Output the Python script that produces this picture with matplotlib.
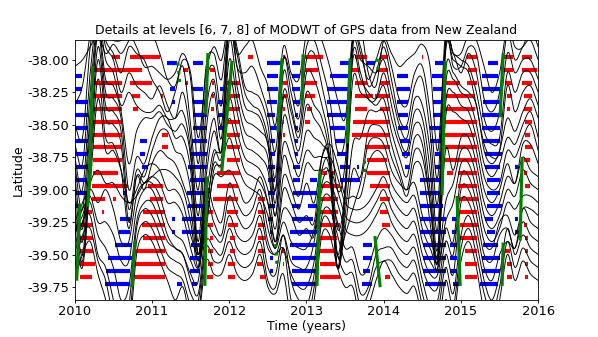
import numpy as np
import matplotlib
matplotlib.use("Agg")
import matplotlib.pyplot as plt

plt.rcParams['axes.unicode_minus'] = False

# ---------------- data ----------------
row_lat = [-38.0, -38.1, -38.2, -38.3, -38.4, -38.5, -38.6, -38.7, -38.8,
           -38.9, -39.0, -39.1, -39.2, -39.3, -39.4, -39.5, -39.6, -39.7]

# time knots of the detail curves (years)
knot_t = [2010.0 + 0.1 * k for k in range(61)]

# detail curves (offset from station latitude, plot units), one row per station
curve_dev = [
 [-0.05, 0.0, 0.1, 0.2, 0.05, 0.12, 0.05, 0.15, 0.25, 0.2,
  0.2, 0.05, -0.15, -0.2, 0.0, -0.1, -0.6, -0.1, 0.1, 0.0,
  0.3, 0.05, 0.1, 0.15, -0.05, -0.2, -0.5, 0.1, -0.1, -0.15,
  0.2, 0.3, 0.15, -0.05, -0.3, -0.45, 0.15, 0.25, -0.1, -0.2,
  0.15, 0.05, -0.05, 0.0, 0.05, 0.12, -0.05, -0.7, 0.2, 0.05,
  0.05, 0.2, 0.15, -0.05, -0.25, -0.1, 0.25, 0.1, 0.1, 0.25, 0.1],
 [-0.25, -0.1, 0.3, 0.5, 0.3, 0.25, 0.25, 0.3, 0.2, 0.05,
  0.05, 0.0, -0.05, 0.0, 0.15, -0.05, -0.7, 0.05, 0.15, -0.05,
  0.4, 0.05, 0.0, 0.05, -0.1, -0.3, -0.6, 0.1, -0.05, -0.25,
  0.2, 0.25, 0.05, -0.2, -0.6, -0.5, 0.3, 0.15, -0.05, 0.1,
  0.25, 0.05, -0.2, -0.25, 0.0, 0.05, -0.3, -0.8, 0.25, 0.05,
  0.05, 0.2, 0.15, -0.2, -0.3, -0.15, 0.3, 0.1, 0.2, 0.25, 0.1],
 [-0.3, -0.4, 0.3, 0.6, 0.35, 0.25, 0.1, 0.3, 0.25, 0.2,
  0.05, -0.05, -0.2, -0.05, 0.15, -0.3, -0.8, 0.0, 0.15, -0.15,
  0.5, 0.3, 0.0, -0.05, -0.1, -0.3, -0.7, 0.2, -0.05, -0.25,
  0.2, 0.25, 0.0, -0.3, -0.8, -0.6, 0.35, 0.3, 0.0, 0.1,
  0.3, 0.05, -0.25, -0.3, 0.0, 0.05, -0.35, -0.9, 0.3, 0.25,
  0.1, 0.25, 0.1, -0.25, -0.35, -0.2, 0.25, 0.1, 0.2, 0.2, 0.05],
 [-0.35, -0.5, 0.2, 0.65, 0.4, 0.3, 0.05, 0.2, 0.1, 0.05,
  0.0, 0.1, -0.05, -0.15, 0.05, -0.3, -0.9, -0.1, 0.15, -0.2,
  0.6, 0.35, 0.05, -0.05, -0.1, -0.3, -0.7, 0.2, -0.05, -0.25,
  0.2, 0.15, -0.05, -0.35, -1.0, -0.7, 0.4, 0.3, 0.25, 0.2,
  0.3, 0.05, -0.2, -0.3, 0.0, -0.05, -0.4, -1.0, 0.4, 0.35,
  0.3, 0.25, 0.05, -0.25, -0.35, -0.3, 0.2, 0.05, 0.2, 0.2, 0.05],
 [-0.35, -0.6, 0.15, 0.7, 0.4, 0.3, 0.05, 0.15, 0.05, 0.0,
  0.0, 0.05, -0.05, -0.05, 0.0, -0.3, -1.0, -0.15, 0.15, -0.2,
  0.65, 0.35, 0.05, 0.0, -0.05, -0.25, -0.6, 0.15, 0.0, -0.2,
  0.15, 0.05, -0.05, -0.35, -1.1, -0.6, 0.45, 0.3, 0.1, 0.1,
  0.3, 0.05, -0.2, -0.3, 0.0, -0.05, -0.45, -1.05, 0.45, 0.4,
  0.35, 0.3, 0.05, -0.25, -0.35, -0.3, 0.2, 0.0, 0.15, 0.2, 0.05],
 [-0.3, -0.65, 0.1, 0.75, 0.35, 0.3, 0.1, -0.3, -0.05, 0.05,
  0.05, 0.1, 0.0, -0.05, 0.0, -0.25, -1.0, -0.3, 0.05, -0.2,
  0.65, 0.3, 0.05, 0.0, -0.05, -0.15, -0.6, 0.2, 0.0, -0.2,
  0.15, 0.05, -0.05, -0.3, -1.1, -0.5, 0.5, 0.35, 0.25, 0.2,
  0.3, 0.05, -0.15, -0.25, 0.0, -0.05, -0.5, -1.0, 0.4, 0.4,
  0.3, 0.25, 0.15, -0.2, -0.3, -0.2, 0.05, -0.05, 0.1, 0.2, 0.05],
 [-0.3, -0.7, 0.1, 0.8, 0.35, 0.3, 0.15, -0.4, -0.15, -0.2,
  0.0, 0.15, 0.15, 0.0, 0.0, -0.25, -0.9, -0.3, 0.05, -0.1,
  0.6, 0.3, 0.05, 0.0, -0.05, -0.15, -0.6, 0.15, 0.0, -0.2,
  0.05, 0.0, -0.05, -0.2, -1.0, -0.5, 0.45, 0.35, 0.3, 0.25,
  0.3, 0.05, -0.15, -0.3, 0.0, -0.05, -0.5, -0.95, 0.4, 0.45,
  0.35, 0.3, 0.1, -0.2, -0.3, -0.2, 0.0, -0.05, 0.1, 0.2, 0.0],
 [-0.3, -0.7, 0.05, 0.8, 0.35, 0.3, 0.15, -0.45, -0.15, -0.2,
  0.0, 0.15, 0.15, 0.0, -0.05, -0.3, -0.8, -0.35, 0.0, -0.05,
  0.55, 0.3, 0.05, 0.0, -0.05, -0.15, -0.5, 0.05, -0.05, -0.2,
  0.0, -0.05, -0.05, -0.15, -0.9, -0.5, 0.05, 0.1, 0.3, 0.3,
  0.3, 0.05, -0.15, -0.3, 0.0, -0.05, -0.4, -0.85, 0.35, 0.45,
  0.35, 0.3, 0.1, -0.2, -0.3, -0.25, 0.0, -0.05, 0.1, 0.2, 0.0],
 [-0.3, -0.7, 0.05, 0.8, 0.35, 0.3, 0.15, -0.45, -0.1, -0.2,
  0.0, 0.1, 0.05, 0.0, -0.15, -0.35, -0.75, -0.35, 0.0, 0.0,
  0.5, 0.25, 0.05, 0.0, -0.05, -0.2, -0.5, 0.05, -0.1, -0.25,
  0.0, -0.05, -0.05, -0.1, -0.8, -0.5, -0.05, -0.1, 0.25, 0.3,
  0.25, 0.05, -0.1, -0.25, 0.0, -0.05, -0.45, -0.8, 0.35, 0.4,
  0.35, 0.3, 0.1, -0.2, -0.3, -0.2, 0.0, -0.15, 0.15, 0.15, 0.0],
 [-0.3, -0.65, 0.05, 0.75, 0.3, 0.25, 0.05, -0.4, 0.0, -0.05,
  0.0, 0.05, 0.05, 0.0, -0.1, -0.35, -0.7, -0.3, 0.15, 0.2,
  0.45, 0.25, 0.05, 0.0, -0.05, -0.2, -0.5, 0.0, -0.1, -0.25,
  -0.05, -0.2, 0.15, 0.15, -0.6, -0.45, -0.25, -0.05, 0.25, 0.3,
  0.25, 0.05, -0.05, -0.1, -0.05, -0.3, -0.45, -0.6, 0.2, 0.05,
  0.3, 0.3, 0.1, -0.2, -0.3, -0.2, 0.0, -0.05, 0.15, 0.05, 0.0],
 [-0.3, -0.6, 0.05, 0.7, 0.3, 0.3, 0.15, -0.1, 0.0, 0.15,
  0.2, 0.15, 0.0, 0.0, -0.1, -0.35, -0.5, -0.3, 0.15, 0.2,
  0.4, 0.2, 0.05, 0.0, -0.05, -0.2, -0.45, 0.0, -0.1, -0.25,
  -0.2, -0.25, 0.25, 0.35, 0.2, -0.05, -0.05, -0.05, 0.2, 0.3,
  0.25, 0.05, -0.05, -0.1, -0.05, -0.3, -0.45, -0.55, -0.1, 0.05,
  0.3, 0.3, 0.1, -0.2, -0.3, -0.2, 0.0, -0.05, 0.15, 0.05, 0.0],
 [-0.2, -0.15, 0.15, 0.25, 0.15, 0.15, 0.05, 0.0, 0.05, 0.15,
  0.2, 0.15, 0.0, 0.0, -0.1, -0.35, -0.5, -0.15, 0.2, 0.2,
  0.25, 0.15, 0.0, 0.05, 0.2, 0.0, -0.3, -0.05, -0.1, -0.25,
  -0.2, -0.25, 0.25, 0.35, 0.2, 0.0, -0.05, -0.05, 0.0, 0.1,
  0.2, 0.05, -0.05, -0.1, -0.05, -0.3, -0.45, -0.5, -0.15, 0.0,
  0.3, 0.3, 0.1, -0.2, -0.3, -0.2, 0.0, -0.05, 0.05, 0.05, 0.0],
 [-0.1, 0.0, 0.2, 0.1, 0.2, 0.05, -0.2, -0.2, 0.15, 0.25,
  0.25, 0.15, -0.05, -0.15, -0.2, -0.35, -0.4, 0.2, 0.05, -0.05,
  0.25, 0.1, 0.0, 0.05, 0.2, -0.1, -0.25, -0.05, -0.2, -0.25,
  -0.25, -0.1, 0.25, 0.35, 0.2, 0.0, -0.05, -0.05, 0.0, 0.1,
  0.2, 0.05, -0.05, -0.1, -0.05, -0.3, -0.45, -0.45, -0.1, -0.2,
  0.3, 0.3, 0.1, -0.2, -0.25, -0.05, 0.0, -0.15, 0.05, 0.05, 0.0],
 [-0.05, 0.2, 0.25, 0.05, 0.05, -0.05, -0.25, -0.25, 0.15, 0.3,
  0.3, 0.15, -0.05, -0.15, -0.2, -0.35, -0.4, 0.2, 0.05, -0.05,
  0.25, 0.1, 0.0, 0.05, 0.2, -0.1, -0.2, -0.05, -0.25, -0.3,
  -0.3, -0.1, 0.3, 0.35, 0.2, 0.0, -0.05, -0.05, 0.0, 0.1,
  0.2, 0.05, -0.05, -0.1, -0.05, -0.3, -0.45, -0.45, -0.1, -0.2,
  0.3, 0.3, 0.1, -0.2, -0.25, -0.05, 0.0, -0.15, 0.15, 0.05, 0.0],
 [0.05, 0.25, 0.3, 0.05, -0.05, -0.2, -0.45, -0.35, 0.15, 0.3,
  0.3, 0.15, 0.0, -0.05, -0.1, -0.3, -0.4, 0.1, 0.05, 0.0,
  0.2, 0.05, 0.0, 0.05, 0.2, -0.05, -0.1, -0.05, -0.25, -0.35,
  -0.35, -0.15, 0.3, 0.35, 0.15, -0.05, -0.05, -0.25, -0.2, 0.0,
  0.1, 0.05, -0.05, -0.1, -0.05, -0.3, -0.5, -0.45, -0.1, -0.25,
  0.3, 0.3, 0.1, -0.2, -0.3, -0.1, 0.0, -0.05, 0.15, 0.05, 0.0],
 [0.0, 0.25, 0.3, 0.0, -0.1, -0.35, -0.6, -0.4, 0.2, 0.35,
  0.3, 0.15, 0.0, -0.05, -0.1, -0.3, -0.35, 0.1, 0.05, 0.0,
  0.2, 0.05, 0.0, 0.05, 0.2, -0.1, -0.15, 0.15, -0.2, -0.35,
  -0.4, -0.15, 0.3, 0.35, 0.15, -0.05, -0.05, -0.3, -0.25, 0.0,
  0.05, 0.05, -0.05, -0.1, -0.05, -0.3, -0.5, -0.45, -0.1, -0.3,
  0.15, 0.3, 0.1, -0.2, -0.35, -0.15, 0.2, 0.0, 0.15, 0.05, 0.0],
 [0.0, 0.25, 0.3, 0.05, -0.1, -0.4, -0.65, -0.45, 0.2, 0.35,
  0.3, 0.15, 0.0, -0.05, -0.1, -0.3, -0.35, 0.15, 0.05, 0.05,
  0.2, 0.05, 0.0, 0.05, 0.2, -0.1, -0.15, 0.15, -0.25, -0.35,
  -0.4, -0.15, 0.35, 0.35, 0.1, -0.05, -0.05, -0.3, -0.2, 0.0,
  0.05, 0.05, -0.05, -0.1, -0.05, -0.3, -0.55, -0.5, -0.1, -0.3,
  0.15, 0.3, 0.1, -0.2, -0.35, -0.15, 0.2, 0.0, 0.15, 0.05, 0.0],
 [0.0, 0.2, 0.3, 0.05, -0.15, -0.45, -0.7, -0.45, 0.2, 0.35,
  0.3, 0.15, 0.0, -0.15, -0.05, -0.3, -0.3, 0.15, 0.05, 0.05,
  0.2, 0.05, 0.0, 0.05, 0.2, -0.05, -0.1, 0.05, -0.3, -0.35,
  -0.4, -0.15, 0.35, 0.35, 0.1, -0.05, -0.05, -0.3, -0.2, 0.0,
  0.15, 0.05, -0.05, -0.1, -0.05, -0.3, -0.55, -0.5, -0.15, -0.3,
  0.15, 0.3, 0.1, -0.25, -0.35, -0.15, 0.2, 0.0, 0.15, 0.05, 0.0],
]

# time spans where the detail is positive (red) / negative (blue), per station
red_spans = [
 [(2010.48, 2010.58), (2010.71, 2011.10), (2012.24, 2012.31), (2012.70, 2012.72), (2012.98, 2013.21),
  (2013.63, 2013.78), (2013.95, 2014.06), (2014.50, 2014.51), (2015.08, 2015.21), (2015.53, 2015.68), (2015.79, 2015.92)],
 [(2010.23, 2010.87), (2011.40, 2011.46), (2011.75, 2011.81), (2012.98, 2013.15), (2013.59, 2013.69),
  (2013.91, 2014.06), (2015.09, 2015.21), (2015.55, 2015.68), (2015.79, 2015.99)],
 [(2010.23, 2010.61), (2010.71, 2011.00), (2011.43, 2011.46), (2011.78, 2011.80), (2011.97, 2012.14),
  (2012.69, 2012.75), (2012.98, 2013.14), (2013.63, 2013.78), (2013.95, 2014.08), (2014.79, 2014.99),
  (2015.08, 2015.21), (2015.57, 2015.66), (2015.79, 2015.92)],
 [(2010.23, 2010.61), (2010.74, 2010.84), (2011.12, 2011.14), (2011.78, 2011.80), (2011.97, 2012.14),
  (2012.69, 2012.75), (2012.98, 2013.11), (2013.63, 2013.86), (2013.89, 2014.08), (2014.79, 2015.18),
  (2015.60, 2015.66), (2015.81, 2015.92)],
 [(2010.23, 2010.61), (2010.75, 2010.82), (2011.76, 2011.80), (2011.97, 2012.14), (2012.69, 2012.72),
  (2013.01, 2013.07), (2013.63, 2013.78), (2013.95, 2014.08), (2014.79, 2015.18), (2015.60, 2015.64), (2015.81, 2015.92)],
 [(2010.23, 2010.61), (2011.97, 2012.14), (2012.69, 2012.71), (2012.98, 2013.05), (2013.60, 2014.08),
  (2014.79, 2015.21), (2015.83, 2015.92)],
 [(2010.23, 2010.61), (2011.13, 2011.21), (2011.97, 2012.14), (2012.70, 2012.72), (2013.59, 2014.08),
  (2014.79, 2015.18), (2015.83, 2015.90)],
 [(2010.23, 2010.61), (2011.13, 2011.21), (2011.97, 2012.14), (2013.76, 2014.08), (2014.79, 2015.21), (2015.83, 2015.92)],
 [(2010.23, 2010.61), (2011.97, 2012.14), (2013.78, 2014.04), (2014.79, 2015.21), (2015.81, 2015.90)],
 [(2010.23, 2010.56), (2011.84, 2012.14), (2013.18, 2013.27), (2013.33, 2013.37), (2013.78, 2014.08),
  (2014.82, 2014.90), (2014.96, 2015.21), (2015.81, 2015.86)],
 [(2010.22, 2010.69), (2010.95, 2011.14), (2011.84, 2012.11), (2013.18, 2013.43), (2013.82, 2014.08),
  (2014.96, 2015.21), (2015.83, 2015.90)],
 [(2010.22, 2010.39), (2010.49, 2010.54), (2010.97, 2011.14), (2011.79, 2012.11), (2012.37, 2012.46),
  (2013.18, 2013.41), (2013.95, 2014.08), (2014.99, 2015.22)],
 [(2010.16, 2010.22), (2010.35, 2010.38), (2010.88, 2011.17), (2011.71, 2011.79), (2011.97, 2012.11),
  (2012.37, 2012.46), (2013.18, 2013.41), (2013.95, 2014.06), (2014.99, 2015.21)],
 [(2010.07, 2010.23), (2010.87, 2011.17), (2011.72, 2011.79), (2011.98, 2012.11), (2012.37, 2012.46),
  (2013.18, 2013.43), (2013.98, 2014.08), (2014.99, 2015.22), (2015.81, 2015.86)],
 [(2010.04, 2010.23), (2010.88, 2011.17), (2011.75, 2011.79), (2012.01, 2012.07), (2012.37, 2012.46),
  (2013.18, 2013.40), (2014.99, 2015.21), (2015.83, 2015.87)],
 [(2010.07, 2010.23), (2010.78, 2011.17), (2011.72, 2011.79), (2012.01, 2012.07), (2012.37, 2012.46),
  (2012.68, 2012.72), (2013.18, 2013.40), (2015.05, 2015.21), (2015.57, 2015.64), (2015.83, 2015.87)],
 [(2010.07, 2010.26), (2010.78, 2011.17), (2011.72, 2011.79), (2011.98, 2012.07), (2012.36, 2012.44),
  (2012.69, 2012.71), (2013.18, 2013.40), (2015.05, 2015.21), (2015.60, 2015.66), (2015.83, 2015.87)],
 [(2010.07, 2010.22), (2010.78, 2011.17), (2011.71, 2011.79), (2011.98, 2012.07), (2012.40, 2012.46),
  (2013.18, 2013.43), (2014.02, 2014.08), (2015.05, 2015.21), (2015.60, 2015.66), (2015.83, 2015.87)],
]

blue_spans = [
 [(2011.19, 2011.32), (2011.53, 2011.66), (2012.49, 2012.68), (2012.81, 2012.92), (2013.43, 2013.56),
  (2013.78, 2013.89), (2014.67, 2014.77), (2015.35, 2015.48)],
 [(2010.00, 2010.09), (2012.49, 2012.63), (2012.81, 2012.92), (2013.30, 2013.54), (2014.17, 2014.32),
  (2014.63, 2014.77), (2015.27, 2015.48)],
 [(2010.00, 2010.10), (2011.23, 2011.30), (2011.53, 2011.66), (2011.88, 2011.92), (2012.49, 2012.63),
  (2012.81, 2012.92), (2013.27, 2013.54), (2014.17, 2014.34), (2014.64, 2014.77), (2015.27, 2015.51)],
 [(2010.00, 2010.17), (2011.26, 2011.30), (2011.53, 2011.71), (2011.85, 2011.92), (2012.49, 2012.62),
  (2012.83, 2012.92), (2013.27, 2013.54), (2014.17, 2014.32), (2014.64, 2014.77), (2015.29, 2015.53)],
 [(2010.00, 2010.17), (2011.53, 2011.71), (2011.85, 2011.92), (2012.49, 2012.59), (2012.85, 2012.89),
  (2013.27, 2013.53), (2014.19, 2014.32), (2014.64, 2014.77), (2015.27, 2015.53)],
 [(2010.00, 2010.17), (2011.53, 2011.71), (2011.85, 2011.92), (2012.53, 2012.62), (2012.85, 2012.89),
  (2013.30, 2013.50), (2014.19, 2014.32), (2014.60, 2014.77), (2015.27, 2015.51)],
 [(2010.00, 2010.17), (2010.84, 2010.93), (2011.52, 2011.71), (2012.53, 2012.59), (2012.85, 2012.89),
  (2013.37, 2013.50), (2014.21, 2014.34), (2014.60, 2014.77), (2015.29, 2015.51)],
 [(2010.00, 2010.17), (2010.84, 2010.91), (2011.49, 2011.71), (2012.53, 2012.59), (2012.85, 2012.89),
  (2013.40, 2013.53), (2014.24, 2014.34), (2014.67, 2014.77), (2015.31, 2015.53)],
 [(2010.00, 2010.17), (2010.87, 2010.95), (2011.46, 2011.71), (2012.50, 2012.59), (2012.82, 2012.92),
  (2013.43, 2013.56), (2013.66, 2013.68), (2014.28, 2014.34), (2014.67, 2014.77), (2015.31, 2015.51), (2015.70, 2015.74)],
 [(2010.00, 2010.16), (2011.49, 2011.71), (2012.50, 2012.59), (2012.82, 2012.92), (2013.05, 2013.14),
  (2013.43, 2013.69), (2014.47, 2014.77), (2015.34, 2015.51)],
 [(2010.00, 2010.17), (2010.62, 2010.67), (2011.45, 2011.69), (2012.50, 2012.59), (2012.82, 2013.14),
  (2014.47, 2014.77), (2015.34, 2015.51)],
 [(2010.00, 2010.07), (2011.46, 2011.69), (2012.50, 2012.59), (2012.81, 2012.92), (2013.02, 2013.14),
  (2014.47, 2014.77), (2015.34, 2015.53)],
 [(2010.58, 2010.71), (2011.26, 2011.30), (2011.39, 2011.66), (2012.50, 2012.57), (2012.81, 2013.08),
  (2014.47, 2014.80), (2014.89, 2014.95), (2015.31, 2015.42), (2015.70, 2015.74)],
 [(2010.57, 2010.71), (2011.26, 2011.30), (2011.39, 2011.66), (2012.53, 2012.57), (2012.79, 2013.14),
  (2014.47, 2014.80), (2014.88, 2014.94), (2015.34, 2015.44), (2015.70, 2015.74)],
 [(2010.52, 2010.74), (2011.51, 2011.65), (2012.79, 2013.14), (2013.73, 2013.85), (2014.51, 2014.80),
  (2014.86, 2014.95), (2015.29, 2015.48)],
 [(2010.43, 2010.74), (2011.49, 2011.62), (2012.53, 2012.57), (2012.81, 2013.14), (2013.73, 2013.85),
  (2014.51, 2014.80), (2014.86, 2014.95), (2015.27, 2015.51)],
 [(2010.41, 2010.71), (2011.49, 2011.62), (2012.53, 2012.57), (2012.81, 2013.14), (2013.73, 2013.82),
  (2014.51, 2014.80), (2014.86, 2014.95), (2015.27, 2015.51)],
 [(2010.39, 2010.71), (2011.32, 2011.39), (2011.52, 2011.58), (2012.81, 2013.14), (2013.72, 2013.85),
  (2014.54, 2014.80), (2014.90, 2014.99), (2015.25, 2015.48)],
]

# tremor episodes: (time_start, lat_start, time_end, lat_end)
tremor_lines = [
 (2010.233, -38.06, 2010.194, -38.84),
 (2010.207, -38.81, 2010.168, -39.12),
 (2010.065, -39.12, 2010.026, -39.69),
 (2010.778, -39.41, 2010.739, -39.74),
 (2011.723, -37.96, 2011.698, -38.41),
 (2011.711, -38.91, 2011.685, -39.73),
 (2012.034, -38.02, 2011.905, -38.85),
 (2012.682, -38.00, 2012.631, -38.54),
 (2012.955, -37.97, 2012.942, -38.33),
 (2013.175, -38.87, 2013.136, -39.73),
 (2013.564, -38.00, 2013.525, -38.63),
 (2013.888, -39.37, 2013.952, -39.74),
 (2014.795, -38.02, 2014.756, -39.03),
 (2014.950, -39.06, 2014.989, -39.73),
 (2015.546, -37.96, 2015.507, -38.43),
 (2015.792, -38.76, 2015.766, -39.38),
 (2015.546, -39.42, 2015.533, -39.73),
]
tremor_short = [
 (2011.335, -38.02, 2011.36, -38.18),
 (2013.914, -37.99, 2013.93, -38.09),
 (2013.745, -38.77, 2013.745, -38.90),
 (2012.600, -39.42, 2012.62, -39.60),
]

x_ticks = [2010, 2011, 2012, 2013, 2014, 2015, 2016]
y_ticks = [-38.00, -38.25, -38.50, -38.75, -39.00, -39.25, -39.50, -39.75]

title = "Details at levels [6, 7, 8] of MODWT of GPS data from New Zealand"


def catmull_rom(t, y, n=24):
    t = np.asarray(t, float)
    y = np.asarray(y, float)
    yp = np.concatenate([[2 * y[0] - y[1]], y, [2 * y[-1] - y[-2]]])
    ts, ys = [], []
    s = np.linspace(0, 1, n, endpoint=False)
    for k in range(len(t) - 1):
        p0, p1, p2, p3 = yp[k], yp[k + 1], yp[k + 2], yp[k + 3]
        seg = 0.5 * ((2 * p1) + (-p0 + p2) * s + (2 * p0 - 5 * p1 + 4 * p2 - p3) * s ** 2
                     + (-p0 + 3 * p1 - 3 * p2 + p3) * s ** 3)
        ts.append(t[k] + (t[k + 1] - t[k]) * s)
        ys.append(seg)
    ts.append([t[-1]])
    ys.append([y[-1]])
    return np.concatenate(ts), np.concatenate(ys)


DPI = 75
fig = plt.figure(figsize=(598 / DPI, 337 / DPI), dpi=DPI)
ax = fig.add_subplot(111)

bar_lw = 4.0
for lat, spans in zip(row_lat, red_spans):
    for a, b in spans:
        ax.plot([a, b], [lat + 0.025, lat + 0.025], color='red', lw=bar_lw, solid_capstyle='butt', zorder=2)
for lat, spans in zip(row_lat, blue_spans):
    for a, b in spans:
        ax.plot([a, b], [lat - 0.025, lat - 0.025], color='blue', lw=bar_lw, solid_capstyle='butt', zorder=2)

for lat, dev in zip(row_lat, curve_dev):
    tt, yy = catmull_rom(knot_t, dev)
    ax.plot(tt, lat + yy, color='black', lw=0.9, zorder=3)

for t0, l0, t1, l1 in tremor_lines:
    ax.plot([t0, t1], [l0, l1], color='green', lw=3.0, zorder=4)
for t0, l0, t1, l1 in tremor_short:
    ax.plot([t0, t1], [l0, l1], color='green', lw=3.0, ls=':', zorder=4)

ax.set_xlim(2010, 2016)
ax.set_ylim(-39.85, -37.85)
ax.set_xticks(x_ticks)
ax.set_xticklabels([str(v) for v in x_ticks])
ax.set_yticks(y_ticks)
ax.set_yticklabels(["%.2f" % v for v in y_ticks])
ax.tick_params(labelsize=12.5, length=2.5, pad=2.5)
ax.set_xlabel("Time (years)", fontsize=12, labelpad=2)
ax.set_ylabel("Latitude", fontsize=12, labelpad=3)
ax.set_title(title, fontsize=12)

fig.savefig("out.png", dpi=DPI)
